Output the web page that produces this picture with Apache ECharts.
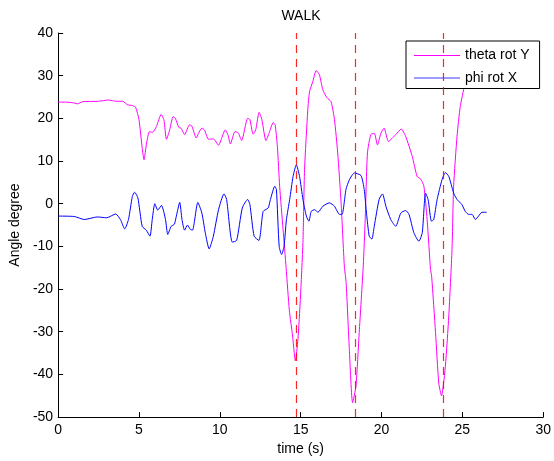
<!DOCTYPE html>
<html>
<head>
<meta charset="utf-8">
<title>WALK</title>
<script src="https://cdn.jsdelivr.net/npm/echarts@6/dist/echarts.min.js"></script>
<style>
  html, body { margin: 0; padding: 0; background: #fff; }
  #chart { width: 554px; height: 461px; }
</style>
</head>
<body>
<div id="chart"></div>
<script>
// Pitch angle (rotation about Y), time in seconds and angle in degrees
const thetaTime = [0, 0.5, 1.0, 1.2, 1.5, 2.5, 3.1, 3.6, 4.0, 4.28, 4.6, 4.79, 5.0, 5.2, 5.31, 5.47, 5.65, 5.82, 6.08, 6.37, 6.54, 6.70, 6.9, 7.11, 7.25, 7.46, 7.6, 7.82, 8.13, 8.27, 8.54, 8.68, 8.89, 9.05, 9.3, 9.6, 9.92, 10.12, 10.33, 10.5, 10.65, 10.94, 11.14, 11.35, 11.72, 11.86, 12.06, 12.22, 12.43, 12.6, 12.85, 13.05, 13.3, 13.42, 13.56, 13.7, 13.91, 14.1, 14.3, 14.5, 14.67, 14.83, 14.98, 15.14, 15.24, 15.44, 15.55, 15.75, 15.96, 16.16, 16.37, 16.61, 16.88, 17.09, 17.29, 17.5, 17.7, 17.81, 18.01, 18.21, 18.42, 18.62, 18.87, 18.99, 19.13, 19.34, 19.55, 19.75, 19.96, 20.16, 20.43, 20.88, 21.22, 21.49, 21.9, 22.2, 22.42, 22.62, 22.82, 23.03, 23.1, 23.34, 23.54, 23.71, 23.95, 24.16, 24.36, 24.46, 24.67, 24.87, 25.14, 25.35];
const thetaDeg = [23.8, 23.8, 23.6, 23.4, 23.9, 24.0, 24.3, 24.0, 24.0, 23.2, 23.0, 22.6, 19.7, 13.0, 10.3, 14.2, 16.9, 16.7, 18.1, 20.9, 19.7, 15.1, 17.3, 20.4, 20.0, 17.9, 17.7, 16.2, 18.5, 18.2, 15.4, 16.5, 17.7, 17.3, 15.1, 15.2, 13.7, 15.4, 17.3, 16.2, 14.0, 16.9, 16.6, 14.8, 20.0, 19.7, 16.3, 17.3, 21.4, 19.7, 14.8, 16.6, 19.0, 18.5, 13.4, 4.1, -6.0, -15.0, -25.0, -31.0, -36.8, -31.8, -22.4, -9.1, 8.0, 22.0, 26.3, 28.6, 31.2, 30.2, 26.7, 24.9, 23.9, 19.7, 11.9, 0.2, -14.6, -18.5, -34.1, -46.6, -42.7, -30.2, -14.6, -3.7, 11.9, 16.2, 16.5, 13.8, 16.5, 17.7, 14.6, 16.2, 17.5, 15.8, 11.1, 6.4, 5.8, 4.1, -3.7, -15.4, -17.0, -30.2, -42.0, -45.0, -38.0, -26.3, -10.7, 4.1, 15.8, 22.8, 27.8, 31.5];

// Roll angle (rotation about X)
const phiTime = [0, 1.0, 1.62, 2.43, 3.0, 3.56, 3.85, 4.12, 4.35, 4.59, 4.73, 4.93, 5.2, 5.45, 5.68, 5.82, 5.98, 6.16, 6.39, 6.64, 6.78, 6.99, 7.19, 7.31, 7.52, 7.66, 7.82, 8.0, 8.17, 8.31, 8.64, 8.89, 9.1, 9.34, 9.6, 9.92, 10.26, 10.42, 10.77, 11.04, 11.39, 11.72, 11.86, 12.12, 12.42, 12.68, 12.99, 13.13, 13.4, 13.5, 13.67, 13.82, 13.97, 14.12, 14.32, 14.53, 14.73, 14.93, 15.14, 15.35, 15.51, 15.65, 15.86, 16.07, 16.37, 16.78, 17.09, 17.4, 17.56, 17.8, 18.01, 18.32, 18.73, 18.93, 19.07, 19.24, 19.4, 19.55, 19.85, 20.06, 20.27, 20.57, 20.88, 21.19, 21.49, 21.7, 22.0, 22.31, 22.52, 22.72, 22.88, 23.09, 23.23, 23.44, 23.74, 23.95, 24.16, 24.46, 24.67, 24.97, 25.18, 25.39, 25.6, 25.8, 26.0, 26.21, 26.5];
const phiDeg = [-2.9, -3.0, -3.7, -3.1, -3.3, -2.4, -3.7, -5.9, -3.7, 1.7, 2.7, 1.4, -5.3, -6.2, -7.6, -3.7, 0.0, -1.5, -0.4, -3.7, -7.2, -5.3, -4.8, -2.9, 0.3, -3.7, -6.2, -5.0, -6.0, -6.2, 0.3, -2.2, -6.8, -10.6, -7.6, -1.4, 2.3, 1.0, -9.0, -8.6, -1.0, 1.0, -0.2, -7.6, -8.6, -1.8, -1.0, 1.0, 4.1, 3.3, -10.0, -11.9, -10.0, -3.7, 1.0, 6.4, 9.1, 6.4, 1.0, -2.9, -4.1, -1.8, -1.4, -2.0, -0.6, 0.2, -0.6, -2.5, -2.5, 3.3, 5.6, 7.2, 6.6, 3.3, -2.2, -7.6, -8.3, -5.3, 1.0, 2.3, -0.6, -3.7, -5.3, -2.2, -1.6, -2.5, -6.8, -8.8, -6.8, 2.5, 1.0, -4.1, -3.7, 1.0, 5.6, 7.3, 6.4, 2.5, 1.0, -0.2, -1.8, -2.5, -2.5, -3.7, -2.9, -2.0, -2.0];

// Heel-strike markers (s)
const stepTimes = [14.73, 18.36, 23.79];

const xTicks = { min: 0, max: 30, interval: 5 };
const yTicks = { min: -50, max: 40, interval: 10 };

const FONT = '"Liberation Sans", Arial, Helvetica, sans-serif';

function pairs(ts, vs) {
  return ts.map((t, i) => [t, vs[i]]);
}

const chart = echarts.init(document.getElementById('chart'), null, { renderer: 'canvas' });

const axisCommon = {
  axisLine: { show: true, onZero: false, lineStyle: { color: '#000', width: 1 } },
  axisTick: { show: true, inside: true, length: 5, lineStyle: { color: '#000', width: 1 } },
  axisLabel: { color: '#000', fontSize: 14, fontFamily: FONT },
  splitLine: { show: false },
  nameTextStyle: { color: '#000', fontSize: 14, fontFamily: FONT }
};

chart.setOption({
  animation: false,
  backgroundColor: '#fff',
  title: {
    text: 'WALK',
    left: 301,
    top: 9,
    textAlign: 'center',
    padding: 0,
    textStyle: { color: '#000', fontSize: 14, fontWeight: 'normal', fontFamily: FONT }
  },
  grid: { left: 57, right: 9, top: 33, bottom: 43, containLabel: false },
  xAxis: Object.assign({}, axisCommon, {
    type: 'value',
    min: xTicks.min, max: xTicks.max, interval: xTicks.interval,
    name: 'time (s)',
    nameLocation: 'middle',
    nameGap: 24,
    axisLabel: Object.assign({}, axisCommon.axisLabel, { margin: 6 })
  }),
  yAxis: Object.assign({}, axisCommon, {
    type: 'value',
    min: yTicks.min, max: yTicks.max, interval: yTicks.interval,
    name: 'Angle degree',
    nameLocation: 'middle',
    nameRotate: 90,
    nameGap: 34,
    axisLabel: Object.assign({}, axisCommon.axisLabel, { margin: 5 })
  }),
  legend: {
    orient: 'vertical',
    left: 406,
    top: 41,
    icon: 'rect',
    itemWidth: 46,
    itemHeight: 1,
    itemGap: 8.5,
    itemTextGap: 4,
    padding: [7.5, 10, 3.5, 8],
    borderColor: '#000',
    borderWidth: 1,
    borderRadius: 0,
    backgroundColor: '#fff',
    textStyle: { color: '#000', fontSize: 14, fontFamily: FONT },
    data: ['theta rot Y', 'phi rot X']
  },
  series: [
    {
      name: 'theta rot Y',
      type: 'line',
      data: pairs(thetaTime, thetaDeg),
      symbol: 'none',
      smooth: 0.2,
      lineStyle: { color: '#ff00ff', width: 1 },
      itemStyle: { color: '#ff00ff' },
      z: 2
    },
    {
      name: 'phi rot X',
      type: 'line',
      data: pairs(phiTime, phiDeg),
      symbol: 'none',
      smooth: 0.2,
      lineStyle: { color: '#0000ff', width: 1 },
      itemStyle: { color: '#3a3aff' },
      z: 3,
      markLine: {
        silent: true,
        symbol: ['none', 'none'],
        label: { show: false },
        lineStyle: { color: '#ff0000', width: 1.2, type: [8, 6], opacity: 0.85 },
        data: stepTimes.map(t => ({ xAxis: t }))
      }
    }
  ]
});
</script>
</body>
</html>
